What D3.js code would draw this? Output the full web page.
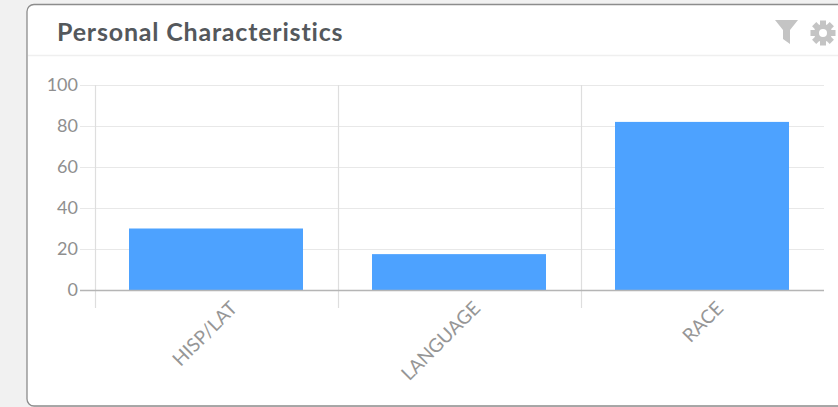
<!DOCTYPE html>
<html>
<head>
<meta charset="utf-8">
<script src="https://cdn.jsdelivr.net/npm/d3@7"></script>
<style>
  html, body { margin: 0; padding: 0; background: #fff; }
  svg { display: block; }
  text { font-family: Lato, sans-serif; }
</style>
</head>
<body>
<svg id="chart" width="838" height="407"></svg>
<script>
const categories = ["HISP/LAT", "LANGUAGE", "RACE"];
const values = [30, 17.5, 82];
const yTicks = [0, 20, 40, 60, 80, 100];
const title = "Personal Characteristics";

const svg = d3.select("#chart");

// Page backdrop and card
svg.append("rect").attr("x", 0).attr("y", 0).attr("width", 838).attr("height", 407).attr("fill", "#f1f1f1");
svg.append("rect").attr("x", 27).attr("y", 4.5).attr("width", 830).attr("height", 401.5).attr("rx", 7)
  .attr("fill", "#fff").attr("stroke", "#8c8c8c").attr("stroke-width", 1.3);
svg.append("line").attr("x1", 28).attr("x2", 838).attr("y1", 55.5).attr("y2", 55.5).attr("stroke", "#efefef").attr("stroke-width", 1.5);

svg.append("text").attr("x", 57).attr("y", 41).attr("font-size", 25).attr("font-weight", 700)
  .attr("letter-spacing", 0.8).attr("fill", "#54585c").text(title);

// Header icons
const iconFill = "#c4c4c4";
svg.append("path").attr("transform", "translate(775,20)")
  .attr("d", "M0,0H23L15,10V24L8,19V10Z").attr("fill", iconFill);
const gear = svg.append("g").attr("transform", "translate(823,33)");
d3.range(8).forEach(i => {
  gear.append("rect").attr("x", -3).attr("y", -12.5).attr("width", 6).attr("height", 6)
    .attr("transform", `rotate(${i * 45})`).attr("fill", iconFill);
});
gear.append("circle").attr("r", 6.5).attr("fill", "none").attr("stroke", iconFill).attr("stroke-width", 5);

// Scales
const x = d3.scaleBand().domain(categories).range([94.5, 823.5]).paddingInner(0.284).paddingOuter(0.142);
const y = d3.scaleLinear().domain([0, 100]).range([290, 85]);
const gutter = (x.step() - x.bandwidth()) / 2 - 1;

// Horizontal grid and y axis
const yAxis = d3.axisLeft(y).tickValues(yTicks).tickSize(0).tickPadding(18);
const gy = svg.append("g").attr("transform", "translate(96,0)").call(yAxis);
gy.select(".domain").remove();
gy.selectAll("text").attr("font-size", 18).attr("fill", "#8f8f8f").attr("font-family", "Lato, sans-serif");
svg.append("g").selectAll("line").data(yTicks.filter(d => d !== 0)).join("line")
  .attr("x1", 80).attr("x2", 824).attr("y1", d => y(d) + 0.5).attr("y2", d => y(d) + 0.5)
  .attr("stroke", "#e8e8e8").attr("stroke-width", 1.2);

// Category separators
svg.append("g").selectAll("line").data(categories).join("line")
  .attr("x1", d => x(d) - gutter).attr("x2", d => x(d) - gutter)
  .attr("y1", 85).attr("y2", 308).attr("stroke", "#dedede").attr("stroke-width", 1.2);

// Bars
svg.append("g").selectAll("rect").data(categories).join("rect")
  .attr("x", d => x(d)).attr("width", x.bandwidth())
  .attr("y", (d, i) => y(values[i])).attr("height", (d, i) => y(0) - y(values[i]))
  .attr("fill", "#4da2ff");

// Baseline
svg.append("line").attr("x1", 80).attr("x2", 824).attr("y1", 290.5).attr("y2", 290.5)
  .attr("stroke", "#b5b5b5").attr("stroke-width", 1.3);

// Rotated category labels
svg.append("g").selectAll("text").data(categories).join("text")
  .attr("transform", d => `translate(${x(d) + x.bandwidth() / 2 + 13},${300}) rotate(-45)`)
  .attr("text-anchor", "end").attr("dy", "0.7em")
  .attr("font-size", 19).attr("fill", "#969696").text(d => d);
</script>
</body>
</html>
